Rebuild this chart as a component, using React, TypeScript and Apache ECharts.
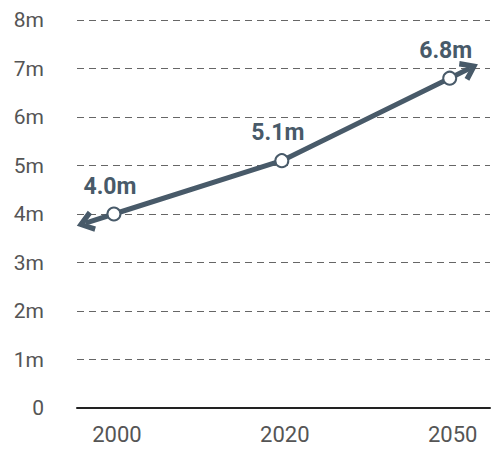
import React, { useEffect, useRef } from "react";
import * as echarts from "echarts";

const years = ["2000", "2020", "2050"];
const values = [4.0, 5.1, 6.8];
const yTicks = [0, 1, 2, 3, 4, 5, 6, 7, 8];

const LINE = "#485a69";

export default function App() {
  const ref = useRef<HTMLDivElement>(null);
  useEffect(() => {
    if (!ref.current) return;
    const chart = echarts.init(ref.current, null, { renderer: "svg" });
    const pts = values.map((v, i) => [i, v]);
    const extL = 0.17;
    const extR = 0.12;
    const slopeL = values[1] - values[0];
    const slopeR = values[2] - values[1];
    const leftTip = [0 - extL, values[0] - extL * slopeL];
    const rightTip = [2 + extR, values[2] + extR * slopeR];
    const chevron = "path://M0,9 L6,0 L12,9 L9.5,10.8 L6,5.2 L2.5,10.8 Z";
    chart.setOption({
      animation: false,
      grid: { left: 77, right: 2, top: 20, bottom: 43, containLabel: false },
      xAxis: {
        type: "value",
        min: -0.22,
        max: 2.24,
        axisLine: { show: true, onZero: false, lineStyle: { color: "#222", width: 2 } },
        axisTick: { show: false },
        splitLine: { show: false },
        axisLabel: {
          customValues: [0, 1, 2],
          formatter: (v: number) => years[Math.round(v)] ?? "",
          color: "#555",
          fontSize: 22,
          fontFamily: "Roboto",
          margin: 15,
          padding: [0, 0, 0, 6],
        },
      },
      yAxis: {
        type: "value",
        min: 0,
        max: 8,
        interval: 1,
        axisLine: { show: false },
        axisTick: { show: false },
        splitLine: { show: true, lineStyle: { color: "#666", type: [7, 5], width: 1 } },
        axisLabel: {
          formatter: (v: number) => (v === 0 ? "0" : v + "m"),
          color: "#555",
          fontSize: 21,
          fontFamily: "Roboto",
          margin: 33,
        },
      },
      series: [
        {
          type: "line",
          data: pts,
          z: 3,
          lineStyle: { color: LINE, width: 5 },
          symbol: "circle",
          symbolSize: 13,
          itemStyle: { color: "#fff", borderColor: LINE, borderWidth: 2 },
          label: {
            show: true,
            position: "top",
            distance: 9,
            offset: [-4, 0],
            formatter: (p: any) => values[p.dataIndex].toFixed(1) + "m",
            color: LINE,
            fontSize: 23,
            fontWeight: "bold",
            fontFamily: "Roboto",
          },
          markLine: {
            silent: true,
            z: 2,
            symbol: ["none", chevron],
            symbolSize: [22, 18],
            label: { show: false },
            lineStyle: { color: LINE, width: 5, type: "solid" },
            data: [
              [{ coord: pts[0] }, { coord: leftTip }],
              [{ coord: pts[2] }, { coord: rightTip }],
            ],
          },
        },
      ],
    });
    return () => chart.dispose();
  }, []);
  return <div ref={ref} style={{ width: 492, height: 451, position: "absolute", left: 0, top: 0 }} />;
}
